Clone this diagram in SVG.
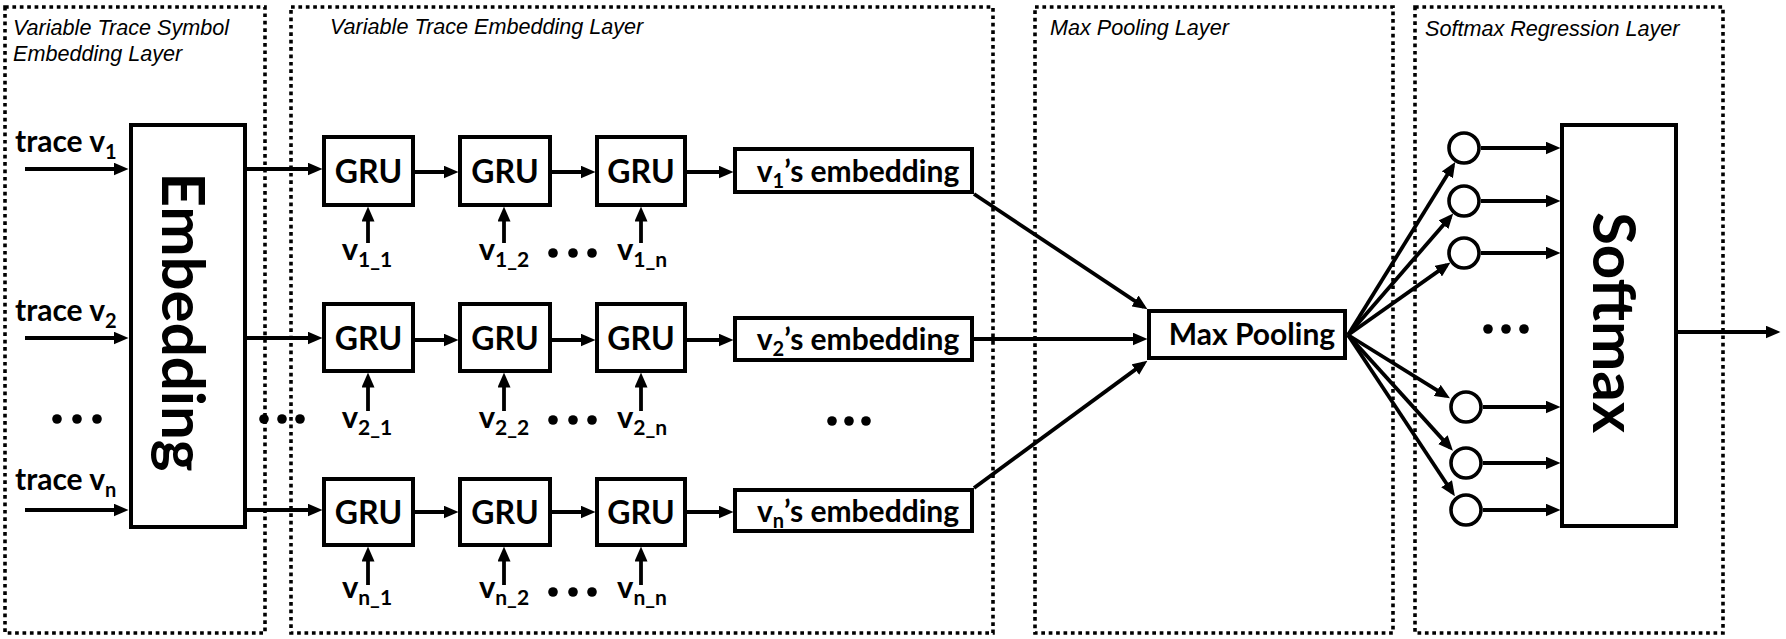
<svg xmlns="http://www.w3.org/2000/svg" width="1786" height="639" viewBox="0 0 1786 639">
<style>
.frame{fill:none;stroke:#000;stroke-width:3.6;stroke-dasharray:3.7 3.7}
.title{font-family:"Liberation Sans",Arial,sans-serif;font-style:italic;font-size:21.6px;fill:#000}
.box{fill:#fff;stroke:#000;stroke-width:4}
.lbl{font-family:Lato,"Open Sans",sans-serif;font-weight:700;fill:#000}
.big{font-size:60px}
.gru{font-size:32px}
.mid{font-size:30px}
.vl{font-size:31px}
.sub{font-size:20px}
.sub2{font-size:21px}
.arr{fill:none;stroke:#000;stroke-width:3.8;marker-end:url(#ah)}
.dot{fill:#000}
.node{fill:#fff;stroke:#000;stroke-width:3.6}
</style>
<defs>
<marker id="ah" markerUnits="userSpaceOnUse" markerWidth="15" markerHeight="13" refX="10.5" refY="6.5" orient="auto">
<path d="M0,0 L15,6.5 L0,13 Z" fill="#000"/>
</marker>
</defs>
<rect width="1786" height="639" fill="#fff"/>

<g id="layer-frames">
<rect class="frame" x="5" y="7" width="260" height="626"/>
<rect class="frame" x="291" y="7" width="702" height="626"/>
<rect class="frame" x="1035" y="7" width="358" height="626"/>
<rect class="frame" x="1415" y="7" width="308" height="626"/>
<text class="title" x="13" y="35">Variable Trace Symbol</text>
<text class="title" x="13" y="61">Embedding Layer</text>
<text class="title" x="330" y="34">Variable Trace Embedding Layer</text>
<text class="title" x="1050" y="35">Max Pooling Layer</text>
<text class="title" x="1425" y="36">Softmax Regression Layer</text>
</g>

<g id="inputs">
<text class="lbl mid" x="15" y="152">trace v<tspan class="sub" dy="7">1</tspan></text>
<text class="lbl mid" x="15" y="321">trace v<tspan class="sub" dy="7">2</tspan></text>
<text class="lbl mid" x="15" y="490">trace v<tspan class="sub" dy="7">n</tspan></text>
<circle class="dot" cx="57" cy="419" r="4.8"/><circle class="dot" cx="77" cy="419" r="4.8"/><circle class="dot" cx="97" cy="419" r="4.8"/>
</g>

<g id="embedding">
<rect class="box" x="131" y="125" width="114" height="402"/>
<text class="lbl big" transform="translate(162,322) rotate(90)" text-anchor="middle">Embedding</text>
</g>

<g id="mid-dots">
<circle class="dot" cx="264" cy="419" r="4.8"/><circle class="dot" cx="282" cy="419" r="4.8"/><circle class="dot" cx="300" cy="419" r="4.8"/>
</g>

<g id="gru-row1">
<rect class="box" x="324" y="137" width="89" height="68"/><text class="lbl gru" x="368.5" y="183" text-anchor="middle">GRU</text>
<rect class="box" x="460" y="137" width="90" height="68"/><text class="lbl gru" x="505" y="183" text-anchor="middle">GRU</text>
<rect class="box" x="597" y="137" width="88" height="68"/><text class="lbl gru" x="641" y="183" text-anchor="middle">GRU</text>
<text class="lbl vl" x="367" y="260" text-anchor="middle">v<tspan class="sub2" dy="7">1_1</tspan></text>
<text class="lbl vl" x="504" y="260" text-anchor="middle">v<tspan class="sub2" dy="7">1_2</tspan></text>
<text class="lbl vl" x="642" y="260" text-anchor="middle">v<tspan class="sub2" dy="7">1_n</tspan></text>
<circle class="dot" cx="553" cy="253" r="4.8"/><circle class="dot" cx="573" cy="253" r="4.8"/><circle class="dot" cx="592" cy="253" r="4.8"/>
</g>

<g id="gru-row2">
<rect class="box" x="324" y="304" width="89" height="67"/><text class="lbl gru" x="368.5" y="350" text-anchor="middle">GRU</text>
<rect class="box" x="460" y="304" width="90" height="67"/><text class="lbl gru" x="505" y="350" text-anchor="middle">GRU</text>
<rect class="box" x="597" y="304" width="88" height="67"/><text class="lbl gru" x="641" y="350" text-anchor="middle">GRU</text>
<text class="lbl vl" x="367" y="428" text-anchor="middle">v<tspan class="sub2" dy="7">2_1</tspan></text>
<text class="lbl vl" x="504" y="428" text-anchor="middle">v<tspan class="sub2" dy="7">2_2</tspan></text>
<text class="lbl vl" x="642" y="428" text-anchor="middle">v<tspan class="sub2" dy="7">2_n</tspan></text>
<circle class="dot" cx="553" cy="420" r="4.8"/><circle class="dot" cx="573" cy="420" r="4.8"/><circle class="dot" cx="592" cy="420" r="4.8"/>
</g>

<g id="gru-rown">
<rect class="box" x="324" y="479" width="89" height="66"/><text class="lbl gru" x="368.5" y="524" text-anchor="middle">GRU</text>
<rect class="box" x="460" y="479" width="90" height="66"/><text class="lbl gru" x="505" y="524" text-anchor="middle">GRU</text>
<rect class="box" x="597" y="479" width="88" height="66"/><text class="lbl gru" x="641" y="524" text-anchor="middle">GRU</text>
<text class="lbl vl" x="367" y="598" text-anchor="middle">v<tspan class="sub2" dy="7">n_1</tspan></text>
<text class="lbl vl" x="504" y="598" text-anchor="middle">v<tspan class="sub2" dy="7">n_2</tspan></text>
<text class="lbl vl" x="642" y="598" text-anchor="middle">v<tspan class="sub2" dy="7">n_n</tspan></text>
<circle class="dot" cx="553" cy="592" r="4.8"/><circle class="dot" cx="573" cy="592" r="4.8"/><circle class="dot" cx="592" cy="592" r="4.8"/>
</g>

<g id="var-embeddings">
<rect class="box" x="735" y="149" width="237" height="43"/>
<text class="lbl mid" x="858" y="182" text-anchor="middle">v<tspan class="sub" dy="6">1</tspan><tspan dy="-6">’s embedding</tspan></text>
<rect class="box" x="735" y="318" width="237" height="42"/>
<text class="lbl mid" x="858" y="350" text-anchor="middle">v<tspan class="sub" dy="6">2</tspan><tspan dy="-6">’s embedding</tspan></text>
<rect class="box" x="735" y="490" width="237" height="41"/>
<text class="lbl mid" x="858" y="522" text-anchor="middle">v<tspan class="sub" dy="6">n</tspan><tspan dy="-6">’s embedding</tspan></text>
<circle class="dot" cx="832" cy="421" r="4.8"/><circle class="dot" cx="849" cy="421" r="4.8"/><circle class="dot" cx="866" cy="421" r="4.8"/>
</g>

<g id="max-pooling">
<rect class="box" x="1149" y="311" width="196" height="47"/>
<text class="lbl mid" x="1252" y="345" text-anchor="middle">Max Pooling</text>
</g>

<g id="softmax-units">
<circle class="node" cx="1464" cy="148" r="15"/>
<circle class="node" cx="1464" cy="201" r="15"/>
<circle class="node" cx="1464" cy="253" r="15"/>
<circle class="node" cx="1466" cy="407" r="15"/>
<circle class="node" cx="1466" cy="463" r="15"/>
<circle class="node" cx="1466" cy="510" r="15"/>
<circle class="dot" cx="1488" cy="329" r="4.8"/><circle class="dot" cx="1506" cy="329" r="4.8"/><circle class="dot" cx="1524" cy="329" r="4.8"/>
</g>

<g id="softmax">
<rect class="box" x="1562" y="125" width="114" height="401"/>
<text class="lbl big" transform="translate(1593,322.5) rotate(90)" text-anchor="middle">Softmax</text>
</g>

<g id="connectors">
<line class="arr" x1="25" y1="169" x2="124" y2="169"/>
<line class="arr" x1="25" y1="338" x2="124" y2="338"/>
<line class="arr" x1="25" y1="510" x2="124" y2="510"/>
<line class="arr" x1="247" y1="169" x2="318" y2="169"/>
<line class="arr" x1="247" y1="338" x2="318" y2="338"/>
<line class="arr" x1="247" y1="510" x2="318" y2="510"/>

<line class="arr" x1="415" y1="172" x2="454" y2="172"/>
<line class="arr" x1="552" y1="172" x2="591" y2="172"/>
<line class="arr" x1="687" y1="172" x2="729" y2="172"/>
<line class="arr" x1="415" y1="340" x2="454" y2="340"/>
<line class="arr" x1="552" y1="340" x2="591" y2="340"/>
<line class="arr" x1="687" y1="340" x2="729" y2="340"/>
<line class="arr" x1="415" y1="512" x2="454" y2="512"/>
<line class="arr" x1="552" y1="512" x2="591" y2="512"/>
<line class="arr" x1="687" y1="512" x2="729" y2="512"/>

<line class="arr" x1="368" y1="243" x2="368" y2="211"/>
<line class="arr" x1="504" y1="243" x2="504" y2="211"/>
<line class="arr" x1="641" y1="243" x2="641" y2="211"/>
<line class="arr" x1="368" y1="411" x2="368" y2="377"/>
<line class="arr" x1="504" y1="411" x2="504" y2="377"/>
<line class="arr" x1="641" y1="411" x2="641" y2="377"/>
<line class="arr" x1="368" y1="585" x2="368" y2="551"/>
<line class="arr" x1="504" y1="585" x2="504" y2="551"/>
<line class="arr" x1="641" y1="585" x2="641" y2="551"/>

<line class="arr" x1="974" y1="194" x2="1143.7" y2="306.8"/>
<line class="arr" x1="974" y1="339" x2="1143" y2="339"/>
<line class="arr" x1="974" y1="488" x2="1143.8" y2="363.4"/>

<line class="arr" x1="1348" y1="335" x2="1452.9" y2="165.8"/>
<line class="arr" x1="1348" y1="335" x2="1450.3" y2="216.9"/>
<line class="arr" x1="1348" y1="335" x2="1446.8" y2="265.1"/>
<line class="arr" x1="1348" y1="335" x2="1446.1" y2="395.9"/>
<line class="arr" x1="1348" y1="335" x2="1449.9" y2="447.4"/>
<line class="arr" x1="1348" y1="335" x2="1452.4" y2="492.5"/>

<line class="arr" x1="1481" y1="148" x2="1556" y2="148"/>
<line class="arr" x1="1481" y1="201" x2="1556" y2="201"/>
<line class="arr" x1="1481" y1="253" x2="1556" y2="253"/>
<line class="arr" x1="1483" y1="407" x2="1556" y2="407"/>
<line class="arr" x1="1483" y1="463" x2="1556" y2="463"/>
<line class="arr" x1="1483" y1="510" x2="1556" y2="510"/>

<line class="arr" x1="1678" y1="332" x2="1776" y2="332"/>
</g>
</svg>
